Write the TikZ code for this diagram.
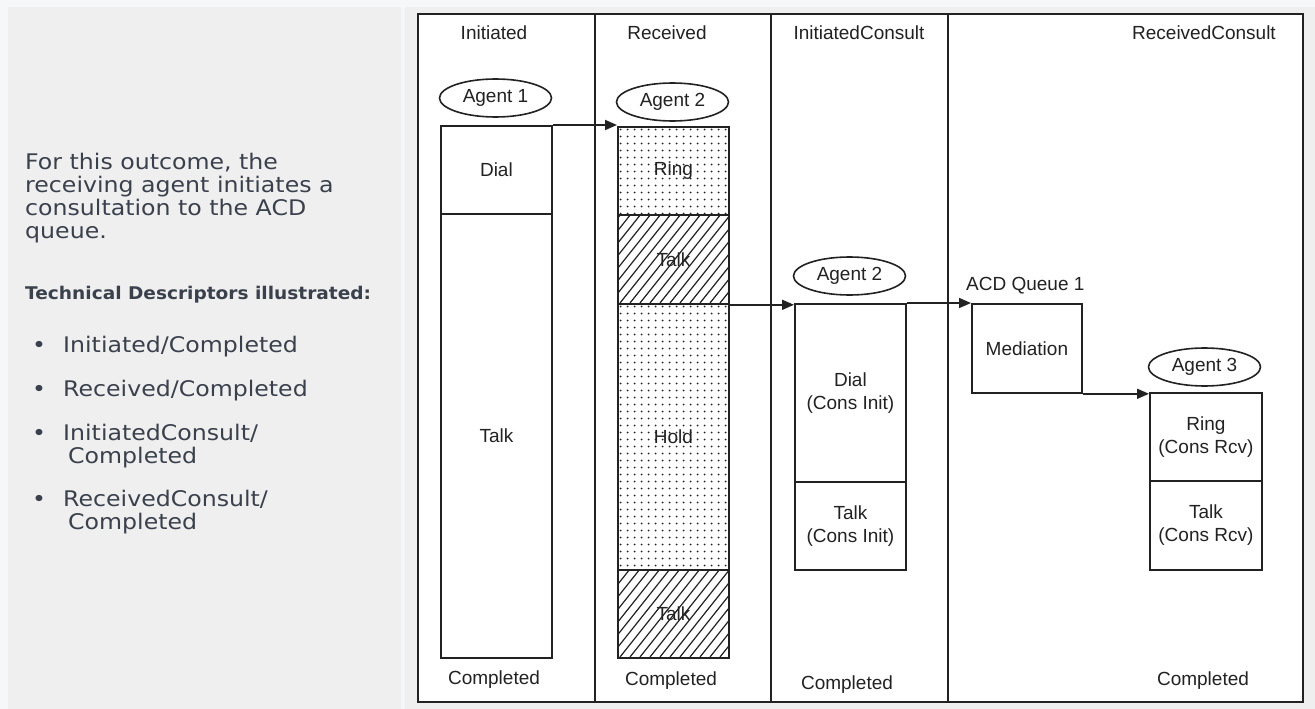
\documentclass[tikz,border=0pt]{standalone}
\usepackage{fontspec}
\setmainfont{Liberation Sans}
\newfontfamily\leftfont[FakeStretch=1.1]{DejaVu Sans}
\newfontfamily\leftbfont[FakeStretch=1.06]{DejaVu Sans}
\usetikzlibrary{arrows.meta,shapes.geometric}
\definecolor{bggray}{HTML}{EFEFEF}
\definecolor{bglight}{HTML}{F6F7F8}
\definecolor{bandcol}{HTML}{F4F6F8}
\definecolor{txtgray}{HTML}{3A414D}
\definecolor{ink}{HTML}{222222}
\begin{document}
\begin{tikzpicture}[x=1pt,y=-1pt,
  lbl/.style={font=\fontsize{19}{23}\selectfont, text=ink, inner sep=0pt, align=center},
  agent/.style={ellipse, draw=ink, line width=1.6pt, minimum width=112pt, minimum height=38pt, inner sep=0pt, font=\fontsize{19}{23}\selectfont, text=ink},
  box/.style={rectangle, draw=ink, line width=1.8pt, anchor=north west, inner sep=0pt, align=center, font=\fontsize{19}{23}\selectfont, text=ink},
  flow/.style={draw=ink, line width=1.8pt, -{Triangle[length=12pt,width=10pt]}},
  hatchline/.style={draw=ink, line width=1.2pt},
  divider/.style={draw=ink, line width=1.8pt},
  para/.style={font=\leftfont\fontsize{21.5}{23}\selectfont, text=txtgray, anchor=base west, inner sep=0pt},
  bold/.style={font=\leftbfont\bfseries\fontsize{17.5}{20}\selectfont, text=txtgray, anchor=base west, inner sep=0pt},
  bullet/.style={font=\leftfont\fontsize{21.5}{23}\selectfont, text=txtgray, anchor=base, inner sep=0pt}
]
\useasboundingbox (0,0) rectangle (1315,709);
% background
\fill[bglight] (0,0) rectangle (1315,709);
\fill[bggray] (8,7) rectangle (1315,709);
\fill[bandcol] (401,7) rectangle (405,709);
% diagram frame
\fill[white] (418,14) rectangle (1303,702);

% dotted regions
\begin{scope}
\clip (617,126) rectangle (728,214);
\foreach \x in {620.5,627.5,...,728} \foreach \y in {129.5,136.5,...,214} \fill[ink] (\x,\y) circle (1pt);
\end{scope}
\begin{scope}
\clip (617,303) rectangle (728,569);
\foreach \x in {620.5,627.5,...,728} \foreach \y in {306.5,313.5,...,569} \fill[ink] (\x,\y) circle (1pt);
\end{scope}
% hatched regions
\begin{scope}
\clip (617,214) rectangle (728,303);
\foreach \x in {540,550,...,740} \draw[hatchline] (\x,303) -- ++(71,-89);
\end{scope}
\begin{scope}
\clip (617,569) rectangle (728,657);
\foreach \x in {540,550,...,740} \draw[hatchline] (\x,657) -- ++(70,-88);
\end{scope}

% frame and column dividers
\draw[draw=ink, line width=2.3pt] (418,14) rectangle (1303,702);
\draw[divider] (595,14) -- (595,702);
\draw[divider] (771,14) -- (771,702);
\draw[divider] (948,14) -- (948,702);

% headers
\node[lbl, anchor=base] (h1) at (494,40) {Initiated};
\node[lbl, anchor=base] (h2) at (667,40) {Received};
\node[lbl, anchor=base] (h3) at (859,40) {InitiatedConsult};
\node[lbl, anchor=base east] (h4) at (1276,40) {ReceivedConsult};

% column 1
\node[agent] (ag1) at (495.5,98) {Agent 1};
\node[box, minimum width=111pt, minimum height=88pt] (dial) at (440,125) {Dial};
\node[box, minimum width=111pt, minimum height=444pt] (talk) at (440,213) {Talk};

% column 2
\node[agent] (ag2) at (672.5,102) {Agent 2};
\node[box, minimum width=111pt, minimum height=88pt] (ring) at (617,126) {Ring};
\node[box, minimum width=111pt, minimum height=89pt] (talkA) at (617,214) {Talk};
\node[box, minimum width=111pt, minimum height=266pt] (hold) at (617,303) {Hold};
\node[box, minimum width=111pt, minimum height=88pt] (talkB) at (617,569) {Talk};

% column 3
\node[agent] (ag2b) at (849.5,276) {Agent 2};
\node[box, minimum width=111pt, minimum height=178pt] (dialci) at (794,303) {Dial\\(Cons Init)};
\node[box, minimum width=111pt, minimum height=88pt] (talkci) at (794,481) {Talk\\(Cons Init)};

% column 4
\node[lbl, anchor=base west] (acd) at (966,290) {ACD Queue 1};
\node[box, minimum width=110pt, minimum height=89pt] (med) at (971,303) {Mediation};
\node[agent] (ag3) at (1204.5,367) {Agent 3};
\node[box, minimum width=112pt, minimum height=88pt] (ringcr) at (1149,392) {Ring\\(Cons Rcv)};
\node[box, minimum width=112pt, minimum height=89pt] (talkcr) at (1149,480) {Talk\\(Cons Rcv)};

% connectors
\draw[flow] (dial.north east) -- (dial.north east -| ring.west);
\draw[flow] (talkA.south east) -- (talkA.south east -| dialci.west);
\draw[flow] (dialci.north east) -- (dialci.north east -| med.west);
\draw[flow] (med.south east) -- (med.south east -| ringcr.west);

% completed labels
\node[lbl, anchor=base] (c1) at (494,684) {Completed};
\node[lbl, anchor=base] (c2) at (671,685) {Completed};
\node[lbl, anchor=base] (c3) at (847,689) {Completed};
\node[lbl, anchor=base] (c4) at (1203,685) {Completed};

% left text
\node[para] (p1) at (25,169) {For this outcome, the};
\node[para] (p2) at (25,192) {receiving agent initiates a};
\node[para] (p3) at (25,215) {consultation to the ACD};
\node[para] (p4) at (25,238) {queue.};
\node[bold] (tdi) at (25,299) {Technical Descriptors illustrated:};
\node[bullet] (b1) at (39,352) {•};
\node[para] (l1) at (63,352) {Initiated/Completed};
\node[bullet] (b2) at (39,396) {•};
\node[para] (l2) at (63,396) {Received/Completed};
\node[bullet] (b3) at (39,440) {•};
\node[para] (l3) at (63,440) {InitiatedConsult/};
\node[para] (l3b) at (68,463) {Completed};
\node[bullet] (b4) at (39,506) {•};
\node[para] (l4) at (63,506) {ReceivedConsult/};
\node[para] (l4b) at (68,529) {Completed};
\end{tikzpicture}
\end{document}
